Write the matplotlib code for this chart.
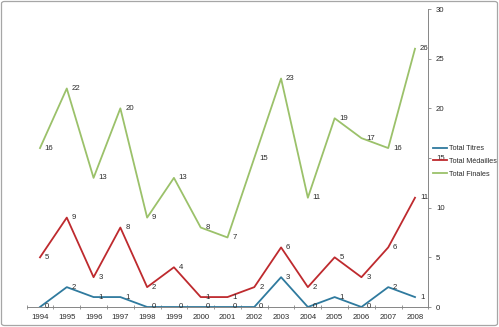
import matplotlib
matplotlib.use("Agg")
import matplotlib.pyplot as plt
from matplotlib.patches import FancyBboxPatch
import numpy as np

years = ["1994", "1995", "1996", "1997", "1998", "1999", "2000", "2001",
         "2002", "2003", "2004", "2005", "2006", "2007", "2008"]
total_titres = [0, 2, 1, 1, 0, 0, 0, 0, 0, 3, 0, 1, 0, 2, 1]
total_medailles = [5, 9, 3, 8, 2, 4, 1, 1, 2, 6, 2, 5, 3, 6, 11]
total_finales = [16, 22, 13, 20, 9, 13, 8, 7, 15, 23, 11, 19, 17, 16, 26]

series = [
    ("Total Titres", total_titres, "#2F7A9E"),
    ("Total Médailles", total_medailles, "#BE2A2E"),
    ("Total Finales", total_finales, "#9BC16A"),
]

plt.rcParams["font.family"] = ["Liberation Sans", "DejaVu Sans"]

W, H = 499, 327
fig = plt.figure(figsize=(W / 100, H / 100), dpi=100)

# outer chart border
fig.patches.append(FancyBboxPatch((1.5 / W, 1.5 / H), (W - 3) / W, (H - 3) / H,
                                  boxstyle="round,pad=0,rounding_size=0.006",
                                  transform=fig.transFigure, fill=False,
                                  edgecolor="#A6A6A6", linewidth=0.9))

ax = fig.add_axes([26.6 / W, 1 - 307 / H, (428.4 - 26.6) / W, (307 - 9) / H])
x = np.arange(len(years))

for name, vals, col in series:
    ax.plot(x, vals, color=col, linewidth=1.3, label=name)
    for xi, v in zip(x, vals):
        ax.annotate(str(v), (xi, v), xytext=(3.5, 0), textcoords="offset points",
                    ha="left", va="center", fontsize=5.6, color="#2B2B2B")

ax.set_xlim(-0.5, len(years) - 0.5)
ax.set_ylim(0, 30)
ax.set_yticks(range(0, 31, 5))
ax.yaxis.tick_right()
ax.tick_params(axis="y", length=2.5, width=0.6, color="#868686",
               labelsize=5.6, labelcolor="#2B2B2B", pad=3)

ax.set_xticks(x)
ax.set_xticklabels(years)
ax.set_xticks(np.arange(-0.5, len(years), 1), minor=True)
ax.tick_params(axis="x", which="major", length=0, labelsize=5.6,
               labelcolor="#2B2B2B", pad=5)
ax.tick_params(axis="x", which="minor", length=3, width=0.6, color="#868686",
               direction="inout")

for side in ("top", "left"):
    ax.spines[side].set_visible(False)
for side in ("bottom", "right"):
    ax.spines[side].set_color("#868686")
    ax.spines[side].set_linewidth(0.7)

leg = ax.legend(loc="upper left", bbox_to_anchor=(433 / W, 1 - 145 / H),
                bbox_transform=fig.transFigure, frameon=False, fontsize=5.2,
                handlelength=2.0, handletextpad=0.15, labelspacing=0.8,
                borderaxespad=0, borderpad=0)
for t in leg.get_texts():
    t.set_color("#2B2B2B")

fig.savefig("out.png", dpi=100)
